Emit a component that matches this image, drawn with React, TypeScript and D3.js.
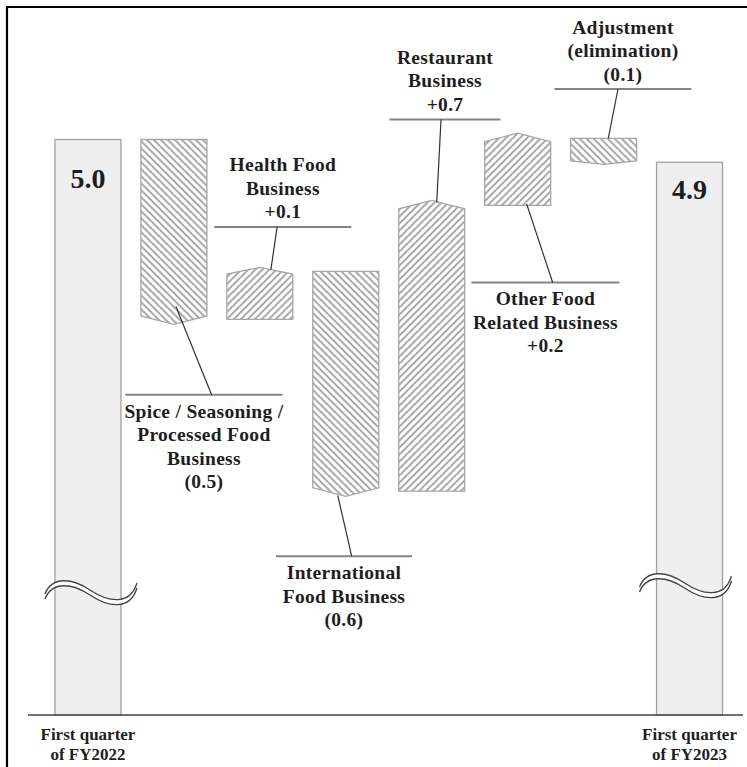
import * as d3 from "d3";

// Operating income bridge, first quarter FY2022 -> FY2023 (billion yen)
const categories = [
  "FY2022 Q1",
  "Spice",
  "Health Food",
  "International Food",
  "Restaurant",
  "Other Food Related",
  "Adjustment",
  "FY2023 Q1",
];
const startTotal = 4.98;
const segmentChanges = [-0.45, 0.12, -0.55, 0.715, 0.168, -0.06];
const changeLabels = ["(0.5)", "+0.1", "(0.6)", "+0.7", "+0.2", "(0.1)"];
const segmentLabelLines = [
  ["Spice / Seasoning /", "Processed Food", "Business"],
  ["Health Food", "Business"],
  ["International", "Food Business"],
  ["Restaurant", "Business"],
  ["Other Food", "Related Business"],
  ["Adjustment", "(elimination)"],
];
const totalLabels = ["5.0", "4.9"];
const periodLabels = [
  ["First quarter", "of FY2022"],
  ["First quarter", "of FY2023"],
];
const axisMin = 3.54; // broken axis, bars cut with wavy marks

// callout layout, relative to the bar
const callouts = [
  { side: "below", dx: 30, gap: 75.5, lineW: 157, leaderDx: 7.7, anchorDx: 2, anchorDy: -12.8 },
  { side: "above", dx: 23, gap: 44.5, lineW: 137, leaderDx: -5.7, anchorDx: 11, anchorDy: -1.5 },
  { side: "below", dx: -1.8, gap: 65, lineW: 136, leaderDx: 7.7, anchorDx: -8, anchorDy: 4.5 },
  { side: "above", dx: 13.3, gap: 86, lineW: 111, leaderDx: -4, anchorDx: 5, anchorDy: -2.8 },
  { side: "below", dx: 27.8, gap: 77, lineW: 148, leaderDx: 7.2, anchorDx: 9, anchorDy: -1.5 },
  { side: "above", dx: 19.4, gap: 49.3, lineW: 137, leaderDx: -5, anchorDx: 4.7, anchorDy: 0 },
];
const totalLayout = [
  { valueDy: 48, breakDx: -10, breakY: 580 },
  { valueDy: 37, breakDx: -17, breakY: 573 },
];

const width = 747;
const height = 767;
const font = "'Liberation Serif', 'Times New Roman', serif";
const textColor = "#1e1e1e";

export default function App() {
  const x = d3
    .scaleBand<string>()
    .domain(categories)
    .range([45, 732.5])
    .paddingInner(0.232)
    .paddingOuter(0.116);
  const y = d3.scaleLinear().domain([axisMin, startTotal]).range([715, 139.5]);
  const bw = x.bandwidth();

  // running levels
  const levels = [startTotal];
  segmentChanges.forEach((c) => levels.push(levels[levels.length - 1] + c));
  const endTotal = levels[levels.length - 1];
  const totals = [startTotal, endTotal];
  const totalCats = [categories[0], categories[categories.length - 1]];

  const steps = segmentChanges.map((c, i) => {
    const cat = categories[i + 1];
    const x0 = x(cat)!;
    const x1 = x0 + bw;
    const xc = x0 + bw / 2;
    const yPrev = y(levels[i]);
    const yNew = y(levels[i + 1]);
    const h = Math.abs(yNew - yPrev);
    const d = Math.min(8.5, h * 0.14);
    let pts: [number, number][];
    if (c >= 0) {
      const sides = yNew + 0.4 * d;
      const tip = yNew - 0.6 * d;
      pts = [[x0, yPrev], [x1, yPrev], [x1, sides], [xc, tip], [x0, sides]];
    } else {
      const sides = yNew - 0.4 * d;
      const tip = yNew + 0.6 * d;
      pts = [[x0, yPrev], [x1, yPrev], [x1, sides], [xc, tip], [x0, sides]];
    }
    const top = Math.min(yPrev, yNew);
    const bottom = Math.max(yPrev, yNew);
    return { c, xc, pts, top, bottom, i };
  });

  const wave = (x0: number, y0: number) => {
    const p = d3.path();
    p.moveTo(x0, y0 + 14);
    p.bezierCurveTo(x0 + 7, y0 - 4, x0 + 27, y0 - 2, x0 + 45, y0 + 10);
    p.bezierCurveTo(x0 + 63, y0 + 22, x0 + 85, y0 + 26, x0 + 92, y0 + 3);
    return p.toString();
  };

  return (
    <svg
      width={width}
      height={height}
      style={{ position: "absolute", left: 0, top: 0, background: "#fff" }}
    >
      <defs>
        <pattern id="hatchUp" patternUnits="userSpaceOnUse" width={7} height={7}>
          <rect width={7} height={7} fill="#fff" />
          <path d="M-1,1 L1,-1 M0,7 L7,0 M6,8 L8,6" stroke="#adadad" strokeWidth={2} />
        </pattern>
        <pattern id="hatchDown" patternUnits="userSpaceOnUse" width={7} height={7}>
          <rect width={7} height={7} fill="#fff" />
          <path d="M-1,6 L1,8 M0,0 L7,7 M6,-1 L8,1" stroke="#adadad" strokeWidth={2} />
        </pattern>
      </defs>

      {/* frame */}
      <line x1={6} x2={width} y1={7} y2={7} stroke="#000" strokeWidth={2.2} />
      <line x1={7} x2={7} y1={6} y2={height} stroke="#000" strokeWidth={2.2} />

      {/* total bars */}
      {totals.map((t, i) => {
        const x0 = x(totalCats[i])!;
        const lay = totalLayout[i];
        const wx = x0 + lay.breakDx;
        return (
          <g key={"t" + i}>
            <rect
              x={x0}
              y={y(t)}
              width={bw}
              height={y(axisMin) - y(t)}
              fill="#efefef"
              stroke="#a0a0a0"
              strokeWidth={1.3}
            />
            <text
              x={x0 + bw / 2}
              y={y(t) + lay.valueDy}
              textAnchor="middle"
              fontFamily={font}
              fontWeight="bold"
              fontSize={28}
              fill={textColor}
            >
              {totalLabels[i]}
            </text>
            <path
              d={wave(wx, lay.breakY + 2.5)}
              fill="none"
              stroke="#fff"
              strokeWidth={5}
            />
            <path d={wave(wx, lay.breakY)} fill="none" stroke="#444" strokeWidth={1.3} />
            <path d={wave(wx, lay.breakY + 5)} fill="none" stroke="#444" strokeWidth={1.3} />
            {periodLabels[i].map((l, j) => (
              <text
                key={j}
                x={x0 + bw / 2}
                y={740 + j * 20}
                textAnchor="middle"
                fontFamily={font}
                fontWeight="bold"
                fontSize={17}
                fill={textColor}
              >
                {l}
              </text>
            ))}
          </g>
        );
      })}

      {/* axis */}
      <line x1={28} x2={743} y1={y(axisMin)} y2={y(axisMin)} stroke="#444" strokeWidth={1.5} />

      {/* change bars */}
      {steps.map((s) => (
        <polygon
          key={"s" + s.i}
          points={s.pts.map((p) => p.join(",")).join(" ")}
          fill={s.c >= 0 ? "url(#hatchUp)" : "url(#hatchDown)"}
          stroke="#a6a6a6"
          strokeWidth={1.3}
        />
      ))}

      {/* callouts */}
      {steps.map((s) => {
        const co = callouts[s.i];
        const cx = s.xc + co.dx;
        const edge = co.side === "above" ? s.top : s.bottom;
        const lineY = co.side === "above" ? edge - co.gap : edge + co.gap;
        const lines = [...segmentLabelLines[s.i], changeLabels[s.i]];
        const lh = 23.5;
        const firstY =
          co.side === "above"
            ? lineY - 15 - (lines.length - 1) * lh
            : lineY + 16.5;
        return (
          <g key={"c" + s.i}>
            <line
              x1={cx - co.lineW / 2}
              x2={cx + co.lineW / 2}
              y1={lineY}
              y2={lineY}
              stroke="#848484"
              strokeWidth={2}
            />
            <line
              x1={cx + co.leaderDx}
              y1={lineY}
              x2={s.xc + co.anchorDx}
              y2={edge + co.anchorDy}
              stroke="#333"
              strokeWidth={1.2}
            />
            {lines.map((l, j) => (
              <text
                key={j}
                x={cx}
                y={firstY + j * lh + 6.5}
                textAnchor="middle"
                fontFamily={font}
                fontWeight="bold"
                fontSize={19.5}
                letterSpacing={0.3}
                fill={textColor}
              >
                {l}
              </text>
            ))}
          </g>
        );
      })}
    </svg>
  );
}
